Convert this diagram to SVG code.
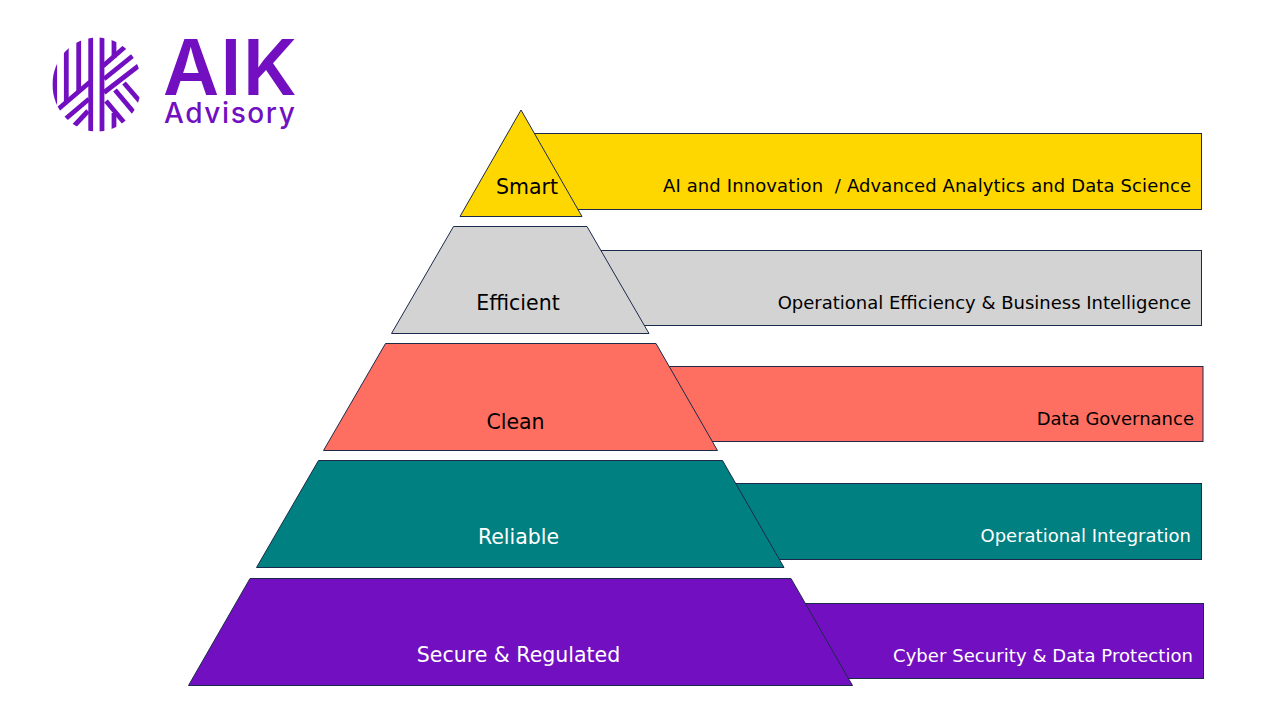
<svg xmlns="http://www.w3.org/2000/svg" width="1280" height="720" viewBox="0 0 1280 720">
<style>
.s{stroke:#1b2a4a;stroke-width:1}
.t{font-family:"DejaVu Sans","Liberation Sans",sans-serif;font-size:18px;white-space:pre}
.n{font-size:20.5px}
.e{text-anchor:end}.m{text-anchor:middle}
.k{fill:#000}.w{fill:#fff}
.logo{stroke:#7210c1;stroke-width:4.800;fill:none}
</style>
<defs><clipPath id="c"><ellipse cx="97" cy="84.500" rx="44.500" ry="47"/></clipPath></defs>
<rect width="1280" height="720" fill="#fff"/>
<g id="logo">
<g class="logo" clip-path="url(#c)">
<path d="M90.700 36V133M102 36V133"/>
<path d="M78.700 36V92M66.300 36V102M54.700 36V108"/>
<path d="M114 36V58M114 113V133"/>
<path d="M90 82L56 111M89 99L63 121M88 111L74 126"/>
<path d="M103 66L126 46M104 79L135 54M104 92.500L141 64"/>
<path d="M124 83L143 105M115 90L136 115M106 101L127 126"/>
</g>
<text x="163" y="95" font-family="Inter,'Liberation Sans',sans-serif" font-weight="600" font-size="77" letter-spacing="1.200" fill="#7210c1">AIK</text>
<text x="164" y="123" font-family="Inter,'Liberation Sans',sans-serif" font-weight="500" font-size="28" letter-spacing="1.600" fill="#7210c1">Advisory</text>
</g>
<g id="bar-smart"><rect class="s" x="520" y="133.500" width="681.500" height="76" fill="#ffd700"/><text class="t k" x="663" y="192" textLength="528">AI and Innovation  / Advanced Analytics and Data Science</text></g>
<g id="bar-efficient"><rect class="s" x="560" y="250.500" width="641.500" height="75" fill="#d3d3d3"/><text class="t e k" x="1191" y="309">Operational Efficiency &amp; Business Intelligence</text></g>
<g id="bar-clean"><rect class="s" x="620" y="366.500" width="583" height="75" fill="#ff6f61"/><text class="t e k" x="1194" y="425">Data Governance</text></g>
<g id="bar-reliable"><rect class="s" x="700" y="483.500" width="501.500" height="76" fill="#008080"/><text class="t e w" x="1191" y="542">Operational Integration</text></g>
<g id="bar-secure"><rect class="s" x="760" y="603.500" width="443.500" height="75" fill="#7210c1"/><text class="t w" x="893" y="662" textLength="300">Cyber Security &amp; Data Protection</text></g>
<g id="tier-smart"><path class="s" d="M521 110L582 216.500H460Z" fill="#ffd700"/><text class="t n m k" x="527" y="194">Smart</text></g>
<g id="tier-efficient"><path class="s" d="M453.500 226.500H587L649 333.500H391.500Z" fill="#d3d3d3"/><text class="t n m k" x="518" y="310">Efficient</text></g>
<g id="tier-clean"><path class="s" d="M385.500 343.500H656L717.500 450.500H323.500Z" fill="#ff6f61"/><text class="t n m k" x="515.500" y="429">Clean</text></g>
<g id="tier-reliable"><path class="s" d="M318.500 460.500H722.500L784 567.500H256.500Z" fill="#008080"/><text class="t n m w" x="518.500" y="544">Reliable</text></g>
<g id="tier-secure"><path class="s" d="M250 578.500H791L852.500 685.500H188.500Z" fill="#7210c1"/><text class="t n m w" x="518.500" y="662">Secure &amp; Regulated</text></g>
</svg>
